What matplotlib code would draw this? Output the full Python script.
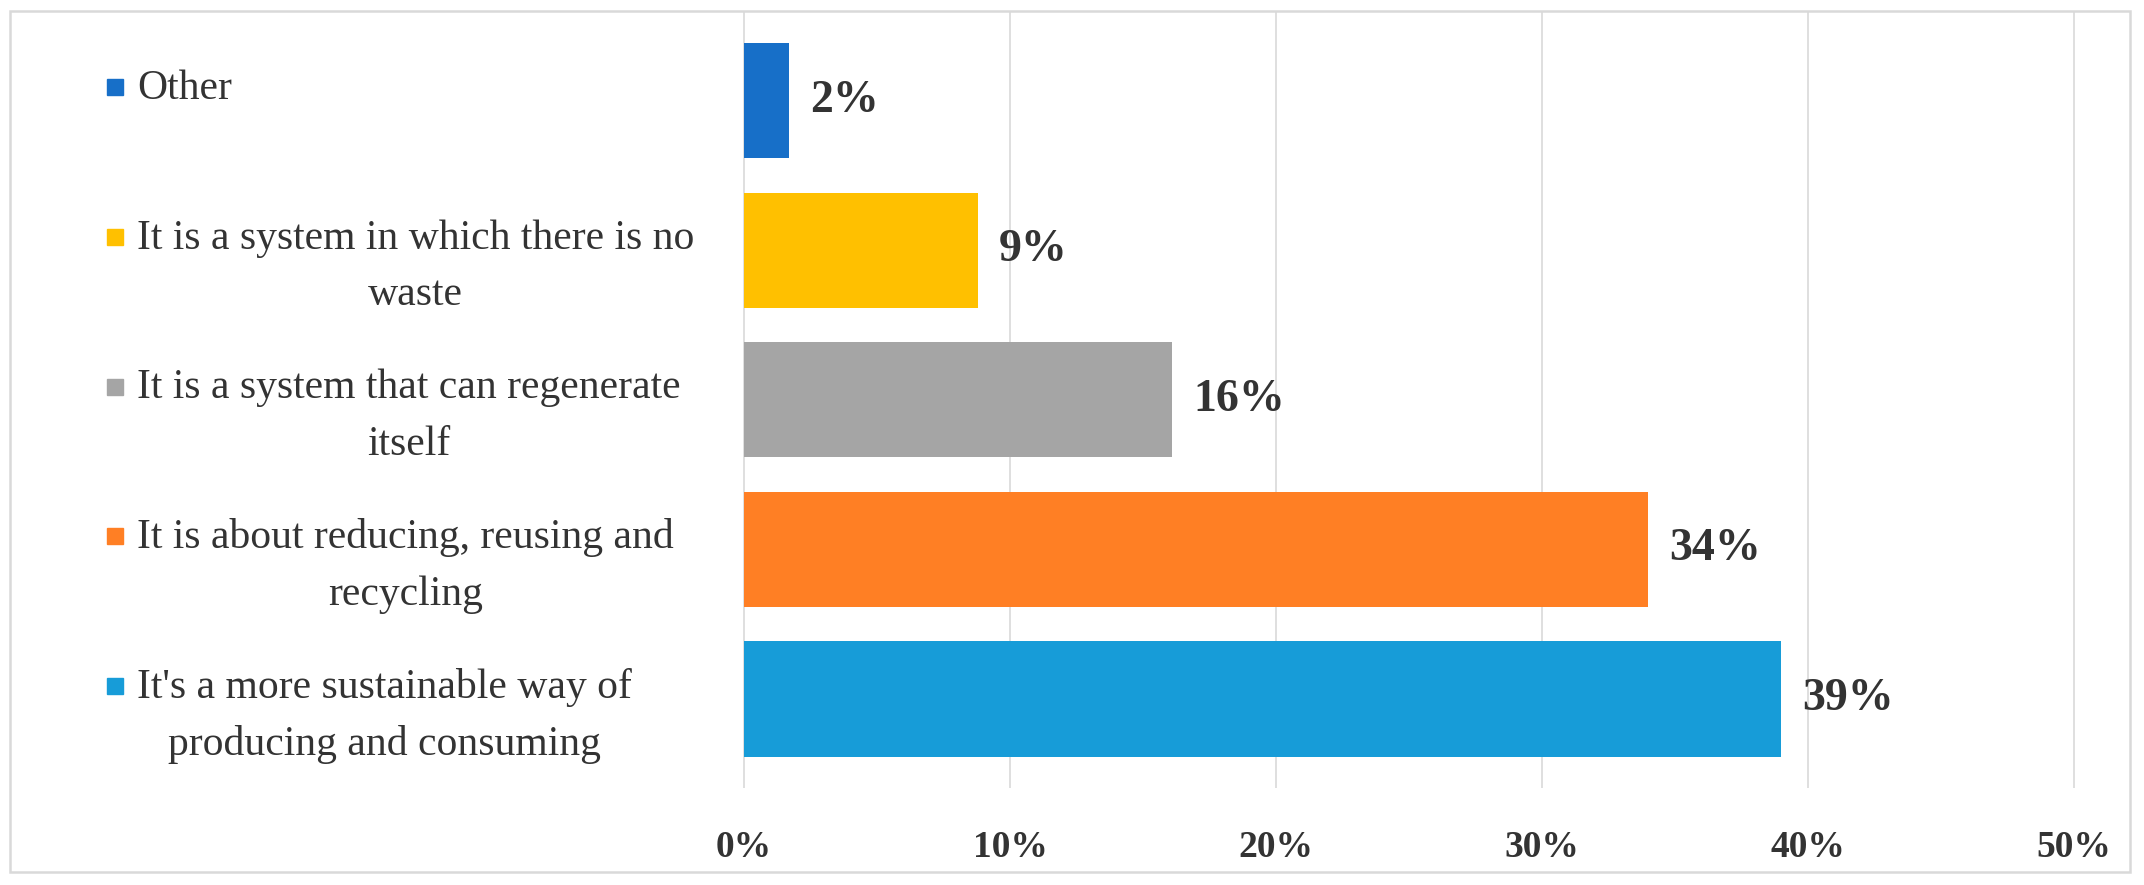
import matplotlib.pyplot as plt
import matplotlib.transforms as mtransforms
from matplotlib.patches import Rectangle

categories = ["It's a more sustainable way of\nproducing and consuming",
              "It is about reducing, reusing and\nrecycling",
              "It is a system that can regenerate\nitself",
              "It is a system in which there is no\nwaste",
              "Other"]
values = [39.0, 34.0, 16.1, 8.8, 1.7]
value_labels = ["39%", "34%", "16%", "9%", "2%"]
colors = ["#179CD8", "#FF7F24", "#A5A5A5", "#FFC000", "#176FC8"]
xticks = [0, 10, 20, 30, 40, 50]
xtick_labels = ["0%", "10%", "20%", "30%", "40%", "50%"]

plt.rcParams['font.family'] = ['Liberation Serif', 'DejaVu Serif']
text_color = "#333333"

fig = plt.figure(figsize=(21.44, 8.85), dpi=100)
ax = fig.add_axes([738.7 / 2144, 1 - 788 / 885, (2100.6 - 738.7) / 2144, 776 / 885])

y = list(range(len(categories)))
bars = ax.barh(y, values, height=0.77, color=colors, zorder=3)
ax.bar_label(bars, labels=value_labels, padding=15, fontsize=33,
             fontweight='bold', color=text_color)

ax.set_xlim(-0.2, 51)
ax.set_ylim(-0.595, 4.592)
ax.set_xticks(xticks)
ax.set_xticklabels(xtick_labels, fontsize=27, fontweight='bold', color=text_color)
ax.set_yticks([])
ax.tick_params(axis='x', length=0, pad=30)
ax.grid(axis='x', color='#d9d9d9', linewidth=1.2, zorder=0)
for s in ax.spines.values():
    s.set_visible(False)

# category labels with coloured squares, left of the axes
fs = 30
trans = mtransforms.blended_transform_factory(fig.transFigure, ax.transData)
text_trans = trans + mtransforms.ScaledTranslation(0, (0.69 * fs + 1.6) / 72, fig.dpi_scale_trans)
marker_trans = trans + mtransforms.ScaledTranslation(0, 9.5 / 72, fig.dpi_scale_trans)
for yi, cat, c in zip(y, categories, colors):
    ax.text(137 / 2144, yi, cat, transform=text_trans, ha='left', va='top',
            multialignment='center', fontsize=fs, color=text_color, linespacing=1.6)
    ax.plot([115 / 2144], [yi], marker='s', markersize=12, color=c,
            transform=marker_trans, clip_on=False, linestyle='none')

# outer frame
fig.patches.append(Rectangle((10 / 2144, 1 - 872 / 885), 2120 / 2144, 861 / 885,
                             transform=fig.transFigure, fill=False,
                             edgecolor='#d9d9d9', linewidth=1.8))

fig.savefig("out.png", dpi=100)
